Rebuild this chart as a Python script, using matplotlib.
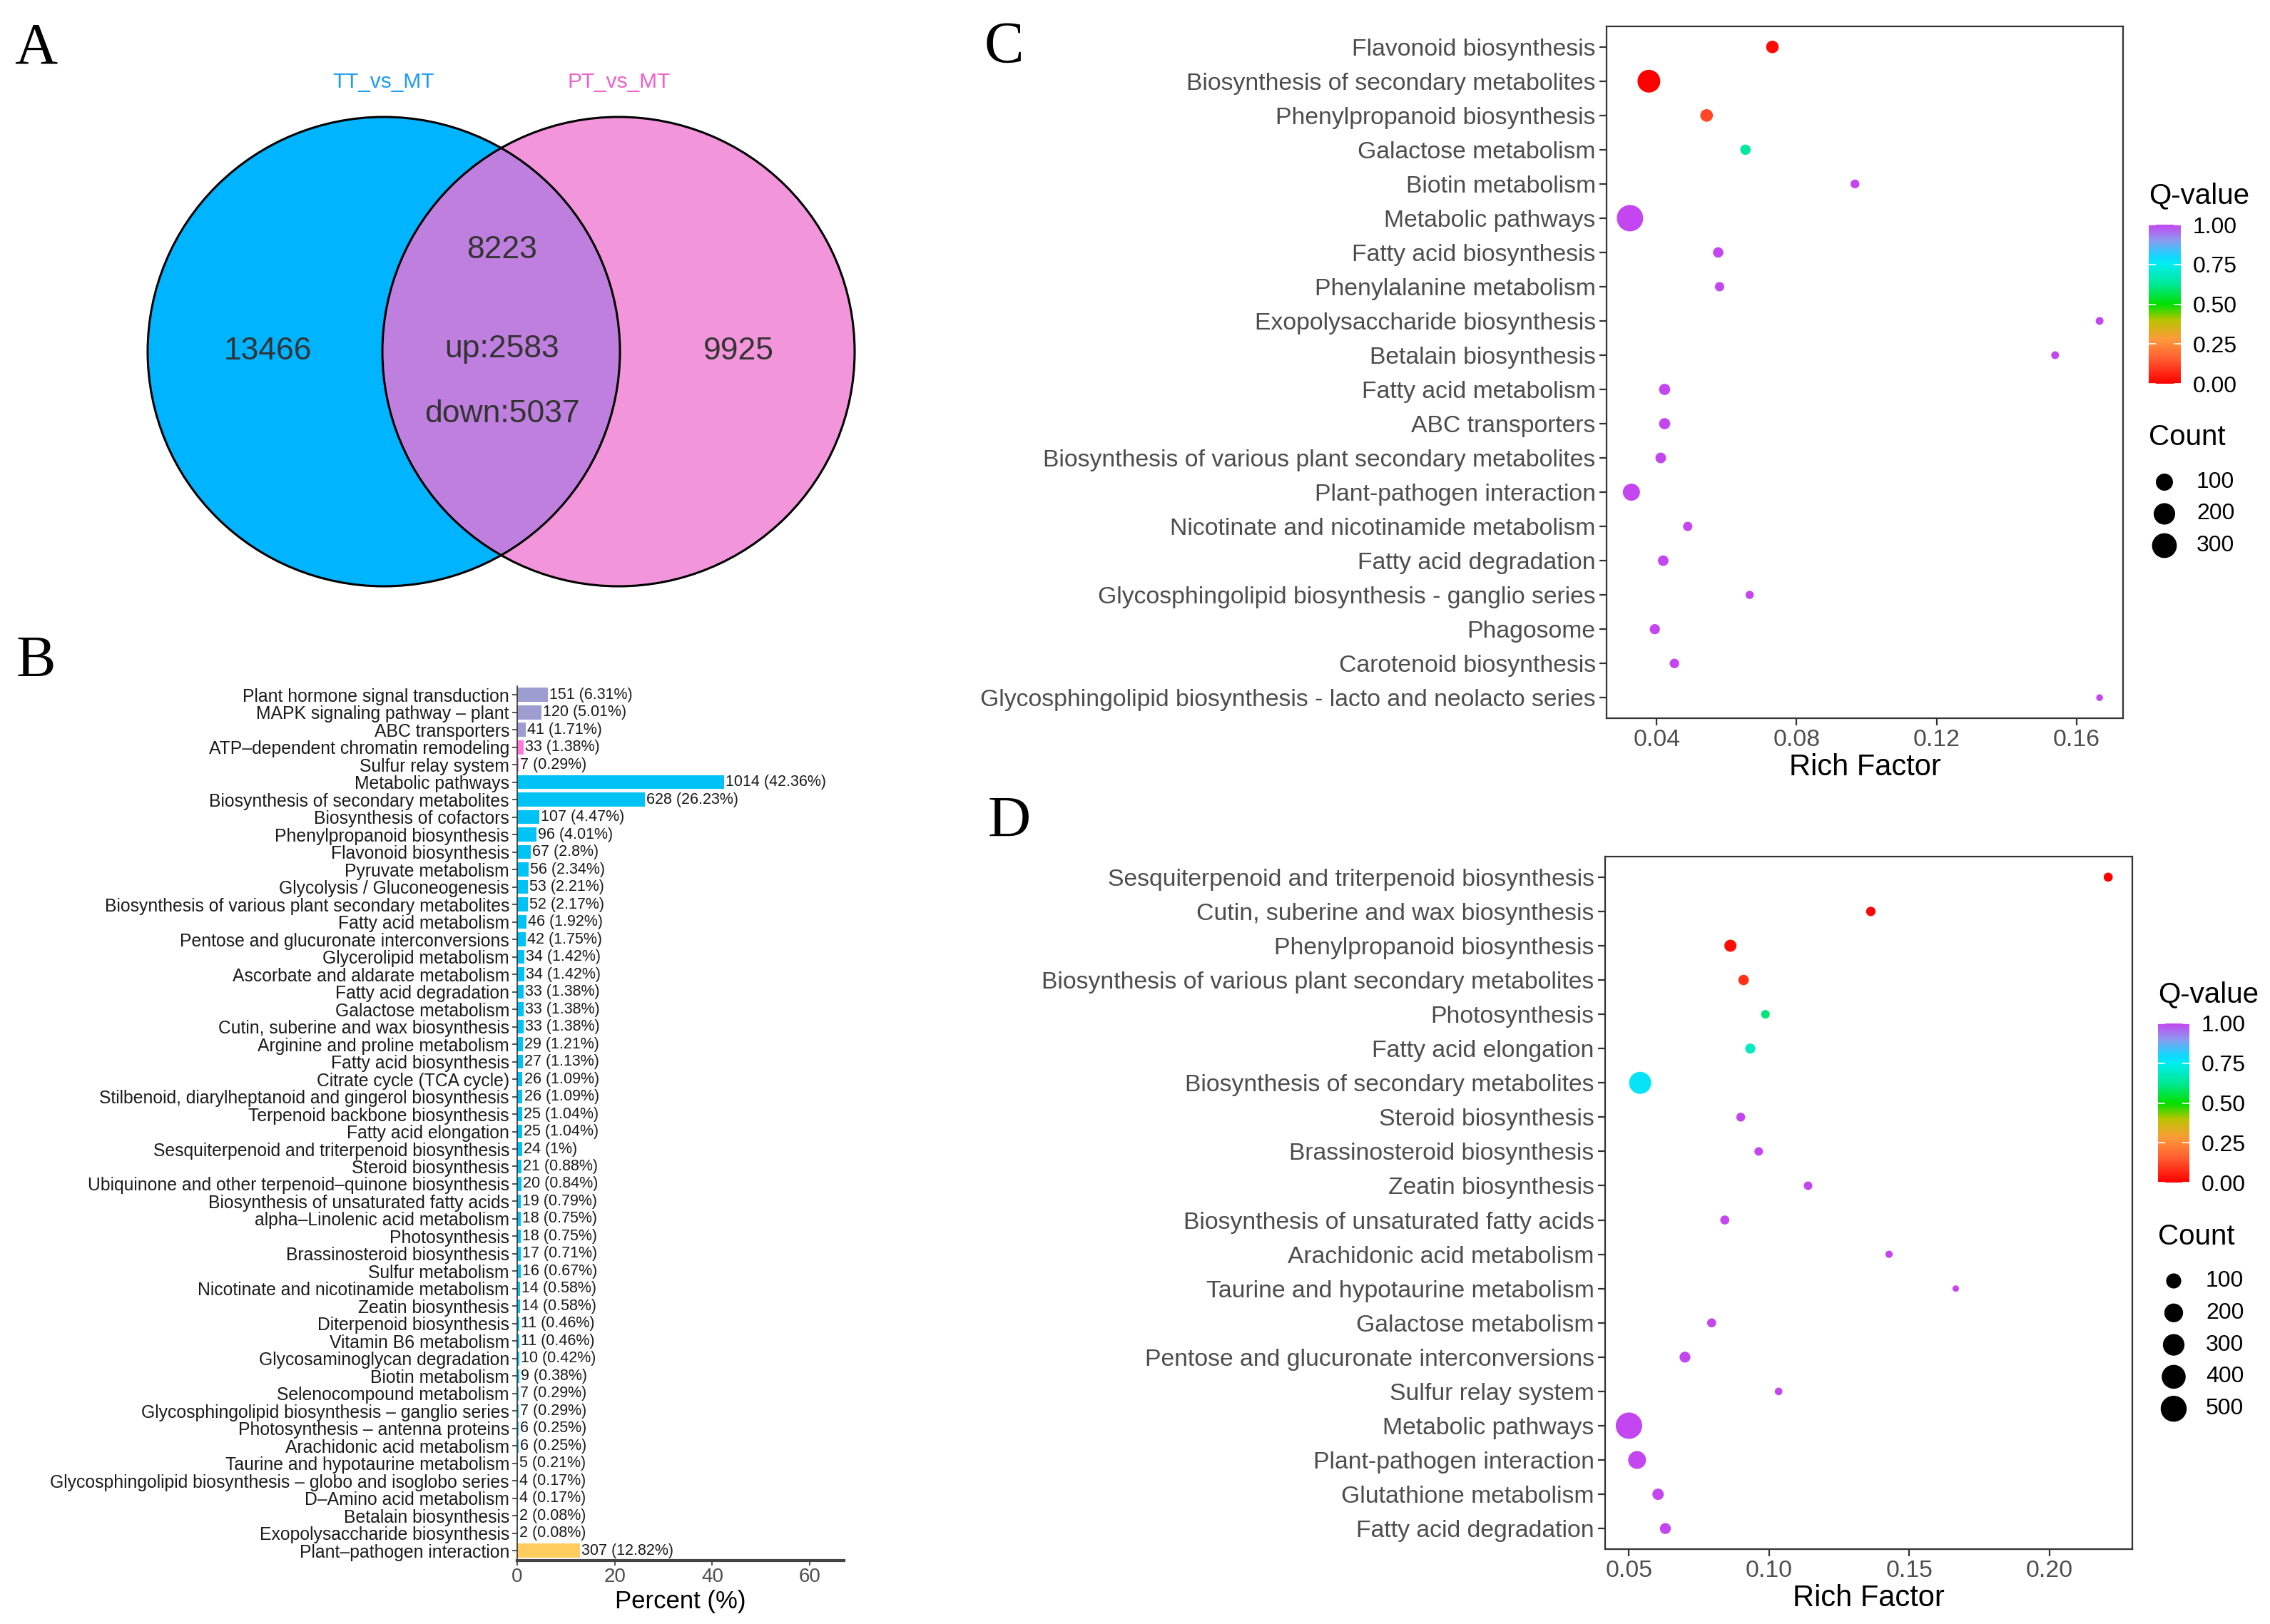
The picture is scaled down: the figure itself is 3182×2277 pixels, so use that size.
import numpy as np
import matplotlib.pyplot as plt
from matplotlib.patches import Ellipse
from matplotlib.colors import LinearSegmentedColormap, Normalize
from matplotlib.cm import ScalarMappable

# ---- data -------------------------------------------------------------------
venn_names = ["TT_vs_MT", "PT_vs_MT"]
venn_only_left = 13466
venn_only_right = 9925
venn_shared = 8223
venn_up = 2583
venn_down = 5037

b_terms = [
    "Plant hormone signal transduction", "MAPK signaling pathway \u2013 plant",
    "ABC transporters", "ATP\u2013dependent chromatin remodeling", "Sulfur relay system",
    "Metabolic pathways", "Biosynthesis of secondary metabolites", "Biosynthesis of cofactors",
    "Phenylpropanoid biosynthesis", "Flavonoid biosynthesis", "Pyruvate metabolism",
    "Glycolysis / Gluconeogenesis", "Biosynthesis of various plant secondary metabolites",
    "Fatty acid metabolism", "Pentose and glucuronate interconversions",
    "Glycerolipid metabolism", "Ascorbate and aldarate metabolism", "Fatty acid degradation",
    "Galactose metabolism", "Cutin, suberine and wax biosynthesis",
    "Arginine and proline metabolism", "Fatty acid biosynthesis", "Citrate cycle (TCA cycle)",
    "Stilbenoid, diarylheptanoid and gingerol biosynthesis", "Terpenoid backbone biosynthesis",
    "Fatty acid elongation", "Sesquiterpenoid and triterpenoid biosynthesis",
    "Steroid biosynthesis", "Ubiquinone and other terpenoid\u2013quinone biosynthesis",
    "Biosynthesis of unsaturated fatty acids", "alpha\u2013Linolenic acid metabolism",
    "Photosynthesis", "Brassinosteroid biosynthesis", "Sulfur metabolism",
    "Nicotinate and nicotinamide metabolism", "Zeatin biosynthesis", "Diterpenoid biosynthesis",
    "Vitamin B6 metabolism", "Glycosaminoglycan degradation", "Biotin metabolism",
    "Selenocompound metabolism", "Glycosphingolipid biosynthesis \u2013 ganglio series",
    "Photosynthesis \u2013 antenna proteins", "Arachidonic acid metabolism",
    "Taurine and hypotaurine metabolism",
    "Glycosphingolipid biosynthesis \u2013 globo and isoglobo series",
    "D\u2013Amino acid metabolism", "Betalain biosynthesis", "Exopolysaccharide biosynthesis",
    "Plant\u2013pathogen interaction",
]
b_counts = [151, 120, 41, 33, 7, 1014, 628, 107, 96, 67, 56, 53, 52, 46, 42, 34, 34, 33, 33, 33,
            29, 27, 26, 26, 25, 25, 24, 21, 20, 19, 18, 18, 17, 16, 14, 14, 11, 11, 10, 9,
            7, 7, 6, 6, 5, 4, 4, 2, 2, 307]
b_percent = [6.31, 5.01, 1.71, 1.38, 0.29, 42.36, 26.23, 4.47, 4.01, 2.8, 2.34, 2.21, 2.17, 1.92,
             1.75, 1.42, 1.42, 1.38, 1.38, 1.38, 1.21, 1.13, 1.09, 1.09, 1.04, 1.04, 1, 0.88,
             0.84, 0.79, 0.75, 0.75, 0.71, 0.67, 0.58, 0.58, 0.46, 0.46, 0.42, 0.38, 0.29, 0.29,
             0.25, 0.25, 0.21, 0.17, 0.17, 0.08, 0.08, 12.82]
b_class = ["env"] * 3 + ["gen"] * 2 + ["met"] * 44 + ["org"]

c_terms = [
    "Flavonoid biosynthesis", "Biosynthesis of secondary metabolites",
    "Phenylpropanoid biosynthesis", "Galactose metabolism", "Biotin metabolism",
    "Metabolic pathways", "Fatty acid biosynthesis", "Phenylalanine metabolism",
    "Exopolysaccharide biosynthesis", "Betalain biosynthesis", "Fatty acid metabolism",
    "ABC transporters", "Biosynthesis of various plant secondary metabolites",
    "Plant-pathogen interaction", "Nicotinate and nicotinamide metabolism",
    "Fatty acid degradation", "Glycosphingolipid biosynthesis - ganglio series", "Phagosome",
    "Carotenoid biosynthesis", "Glycosphingolipid biosynthesis - lacto and neolacto series",
]
c_rich = [0.0731, 0.0378, 0.0543, 0.0654, 0.0967, 0.0324, 0.0576, 0.0580, 0.1666, 0.1539,
          0.0423, 0.0423, 0.0412, 0.0328, 0.0489, 0.0419, 0.0666, 0.0395, 0.0451, 0.1666]
c_count = [33, 236, 33, 14, 6, 355, 14, 8, 3, 3, 20, 20, 16, 100, 8, 15, 4, 13, 9, 2]
c_q = [0.02, 0.0, 0.12, 0.64, 1, 1, 1, 1, 1, 1, 1, 1, 1, 1, 1, 1, 1, 1, 1, 1]

d_terms = [
    "Sesquiterpenoid and triterpenoid biosynthesis", "Cutin, suberine and wax biosynthesis",
    "Phenylpropanoid biosynthesis", "Biosynthesis of various plant secondary metabolites",
    "Photosynthesis", "Fatty acid elongation", "Biosynthesis of secondary metabolites",
    "Steroid biosynthesis", "Brassinosteroid biosynthesis", "Zeatin biosynthesis",
    "Biosynthesis of unsaturated fatty acids", "Arachidonic acid metabolism",
    "Taurine and hypotaurine metabolism", "Galactose metabolism",
    "Pentose and glucuronate interconversions", "Sulfur relay system", "Metabolic pathways",
    "Plant-pathogen interaction", "Glutathione metabolism", "Fatty acid degradation",
]
d_rich = [0.221, 0.1363, 0.0862, 0.0909, 0.0987, 0.0933, 0.054, 0.0899, 0.0963, 0.1139,
          0.0842, 0.1428, 0.1666, 0.0795, 0.070, 0.1034, 0.050, 0.0529, 0.0604, 0.063]
d_count = [12, 15, 45, 24, 9, 20, 322, 11, 9, 9, 12, 4, 3, 12, 29, 5, 520, 172, 35, 30]
d_q = [0.0, 0.01, 0.02, 0.08, 0.60, 0.68, 0.77, 1, 1, 1, 1, 1, 1, 1, 1, 1, 1, 1, 1, 1]

c_legend_counts = [100, 200, 300]
d_legend_counts = [100, 200, 300, 400, 500]

# ---- styling ----------------------------------------------------------------
W, H = 3182, 2277
NARROW = ["Liberation Sans Narrow", "Liberation Sans", "DejaVu Sans"]
SANS = ["Liberation Sans", "DejaVu Sans"]
SERIF = ["Liberation Serif", "DejaVu Serif"]
plt.rcParams["font.family"] = SANS

bar_colors = {"env": "#9D9DD1", "gen": "#FF78DC", "met": "#00C2F5", "org": "#FFCC5E"}
q_cmap = LinearSegmentedColormap.from_list("qval", [
    (0.0, "#FF0000"), (0.15, "#FF5A30"), (0.28, "#FF9A3A"), (0.40, "#B8C400"),
    (0.48, "#20DC00"), (0.50, "#00E000"), (0.62, "#00E890"), (0.75, "#00EEF0"),
    (0.80, "#10D8FF"), (0.90, "#8A9CF0"), (1.0, "#C446F0")])

fig = plt.figure(figsize=(W / 100, H / 100), dpi=100)


def box(x0, y0, x1, y1):
    return fig.add_axes([x0 / W, 1 - y1 / H, (x1 - x0) / W, (y1 - y0) / H])


def dot_area(count, lo, hi, dmin, dmax):
    frac = np.clip((np.asarray(count, float) - lo) / (hi - lo), 0, 1)
    d_px = dmin + (dmax - dmin) * np.sqrt(frac)
    return (d_px * 72 / 100) ** 2


# ---- A: venn ----------------------------------------------------------------
axa = box(0, 0, 1300, 900)
axa.set_xlim(0, 1300)
axa.set_ylim(900, 0)
axa.axis("off")
left_c, right_c, ew, eh = (538, 493), (867, 493), 662, 658
left = Ellipse(left_c, ew, eh, fc="#00B4FF", ec="none")
right = Ellipse(right_c, ew, eh, fc="#F295DA", ec="none")
both = Ellipse(right_c, ew, eh, fc="#BF7FDF", ec="none")
for p in (left, right, both):
    axa.add_patch(p)
both.set_clip_path(left)
for c in (left_c, right_c):
    axa.add_patch(Ellipse(c, ew, eh, fill=False, ec="black", lw=2.2))
vtxt = dict(family=NARROW, fontsize=32, color="#333333", ha="center", va="center")
axa.text(375, 492, str(venn_only_left), **vtxt)
axa.text(1035, 492, str(venn_only_right), **vtxt)
axa.text(704, 351, str(venn_shared), **vtxt)
axa.text(704, 489, f"up:{venn_up}", **vtxt)
axa.text(704, 581, f"down:{venn_down}", **vtxt)
axa.text(538, 115, venn_names[0], family=NARROW, fontsize=21.5, color="#1A9CF5",
         ha="center", va="center")
axa.text(868, 115, venn_names[1], family=NARROW, fontsize=21.5, color="#F060C8",
         ha="center", va="center")

# ---- B: bar chart -----------------------------------------------------------
axb = box(725, 962, 1183, 2188)
ypos = np.arange(len(b_terms))
axb.barh(ypos, b_percent, height=0.8, color=[bar_colors[k] for k in b_class])
for y, c, p in zip(ypos, b_counts, b_percent):
    axb.text(p + 0.3, y, f"{c} ({p:g}%)", va="center", ha="left", family=NARROW,
             fontsize=15.5, color="#1A1A1A")
axb.set_ylim(len(b_terms) - 0.44, -0.5)
axb.set_xlim(0, 67)
axb.set_yticks(ypos)
axb.set_yticklabels(b_terms, family=NARROW, fontsize=17.8, color="#1A1A1A")
axb.set_xticks([0, 20, 40, 60])
axb.set_xticklabels(["0", "20", "40", "60"], family=NARROW, fontsize=20, color="#4D4D4D")
axb.set_xlabel("Percent (%)", family=NARROW, fontsize=25, labelpad=4)
for s in ("top", "right"):
    axb.spines[s].set_visible(False)
axb.spines["left"].set_color("#333333")
axb.spines["left"].set_linewidth(1.2)
axb.spines["bottom"].set_color("#444444")
axb.spines["bottom"].set_linewidth(3)
axb.tick_params(axis="y", length=5, width=1.2, color="#333333", pad=3)
axb.tick_params(axis="x", length=5, width=1.2, color="#333333", pad=2)


# ---- C / D: bubble charts ---------------------------------------------------
def bubble(ax, terms, rich, count, q, lo, hi, dmin, dmax, xlim, xticks, xfmt):
    y = np.arange(len(terms))
    ax.scatter(rich, y, s=dot_area(count, lo, hi, dmin, dmax), c=q, cmap=q_cmap,
               vmin=0, vmax=1, edgecolors="none", zorder=3)
    ax.set_ylim(len(terms) - 0.4, -0.6)
    ax.set_xlim(*xlim)
    ax.set_yticks(y)
    ax.set_yticklabels(terms, fontsize=24.3, color="#4D4D4D")
    ax.set_xticks(xticks)
    ax.set_xticklabels([xfmt.format(v) for v in xticks], fontsize=24.3, color="#4D4D4D")
    ax.set_xlabel("Rich Factor", fontsize=30, labelpad=2)
    for s in ax.spines.values():
        s.set_color("#333333")
        s.set_linewidth(1.6)
    ax.tick_params(length=7, width=1.6, color="#333333", pad=4)


axc = box(2252, 37, 2976, 1007)
bubble(axc, c_terms, c_rich, c_count, c_q, 2, 355, 9.5, 37, (0.0257, 0.1733),
       [0.04, 0.08, 0.12, 0.16], "{:.2f}")
axd = box(2250, 1201, 2989, 2172)
bubble(axd, d_terms, d_rich, d_count, d_q, 3, 520, 9, 37, (0.0415, 0.2296),
       [0.05, 0.10, 0.15, 0.20], "{:.2f}")

# ---- legends ----------------------------------------------------------------
ov = fig.add_axes([0, 0, 1, 1])
ov.set_xlim(0, W)
ov.set_ylim(H, 0)
ov.axis("off")


def legend(cb_box, q_title_xy, count_title_xy, dot_x, first_y, step, counts, lo, hi, dmin, dmax):
    cax = box(*cb_box)
    cb = fig.colorbar(ScalarMappable(norm=Normalize(0, 1), cmap=q_cmap), cax=cax)
    cb.outline.set_visible(False)
    cb.set_ticks([0, 0.25, 0.5, 0.75, 1.0])
    cb.set_ticklabels(["0.00", "0.25", "0.50", "0.75", "1.00"])
    cax.tick_params(direction="in", length=7, width=1.2, color="white", left=True,
                    right=True, labelsize=23, pad=12)
    ov.text(*q_title_xy, "Q-value", fontsize=29, ha="left", va="center")
    ov.text(*count_title_xy, "Count", fontsize=29, ha="left", va="center")
    ys = first_y + step * np.arange(len(counts))
    ov.scatter([dot_x] * len(counts), ys, s=dot_area(counts, lo, hi, dmin, dmax),
               color="black", edgecolors="none")
    for yy, c in zip(ys, counts):
        ov.text(dot_x + 45, yy, str(c), fontsize=23, ha="left", va="center")


legend((3012, 315, 3057, 538), (3012, 274), (3012, 613), 3034, 676, 44.5,
       c_legend_counts, 2, 355, 9.5, 37)
legend((3025, 1435, 3069, 1658), (3025, 1394), (3025, 1734), 3047, 1796, 44.8,
       d_legend_counts, 3, 520, 9, 37)

# ---- panel letters ----------------------------------------------------------
for letter, x, y in (("A", 50, 69), ("B", 50, 928), ("C", 1407, 67), ("D", 1415, 1153)):
    ov.text(x, y, letter, family=SERIF, fontsize=60, ha="center", va="center")

fig.savefig("out.png", dpi=100)
